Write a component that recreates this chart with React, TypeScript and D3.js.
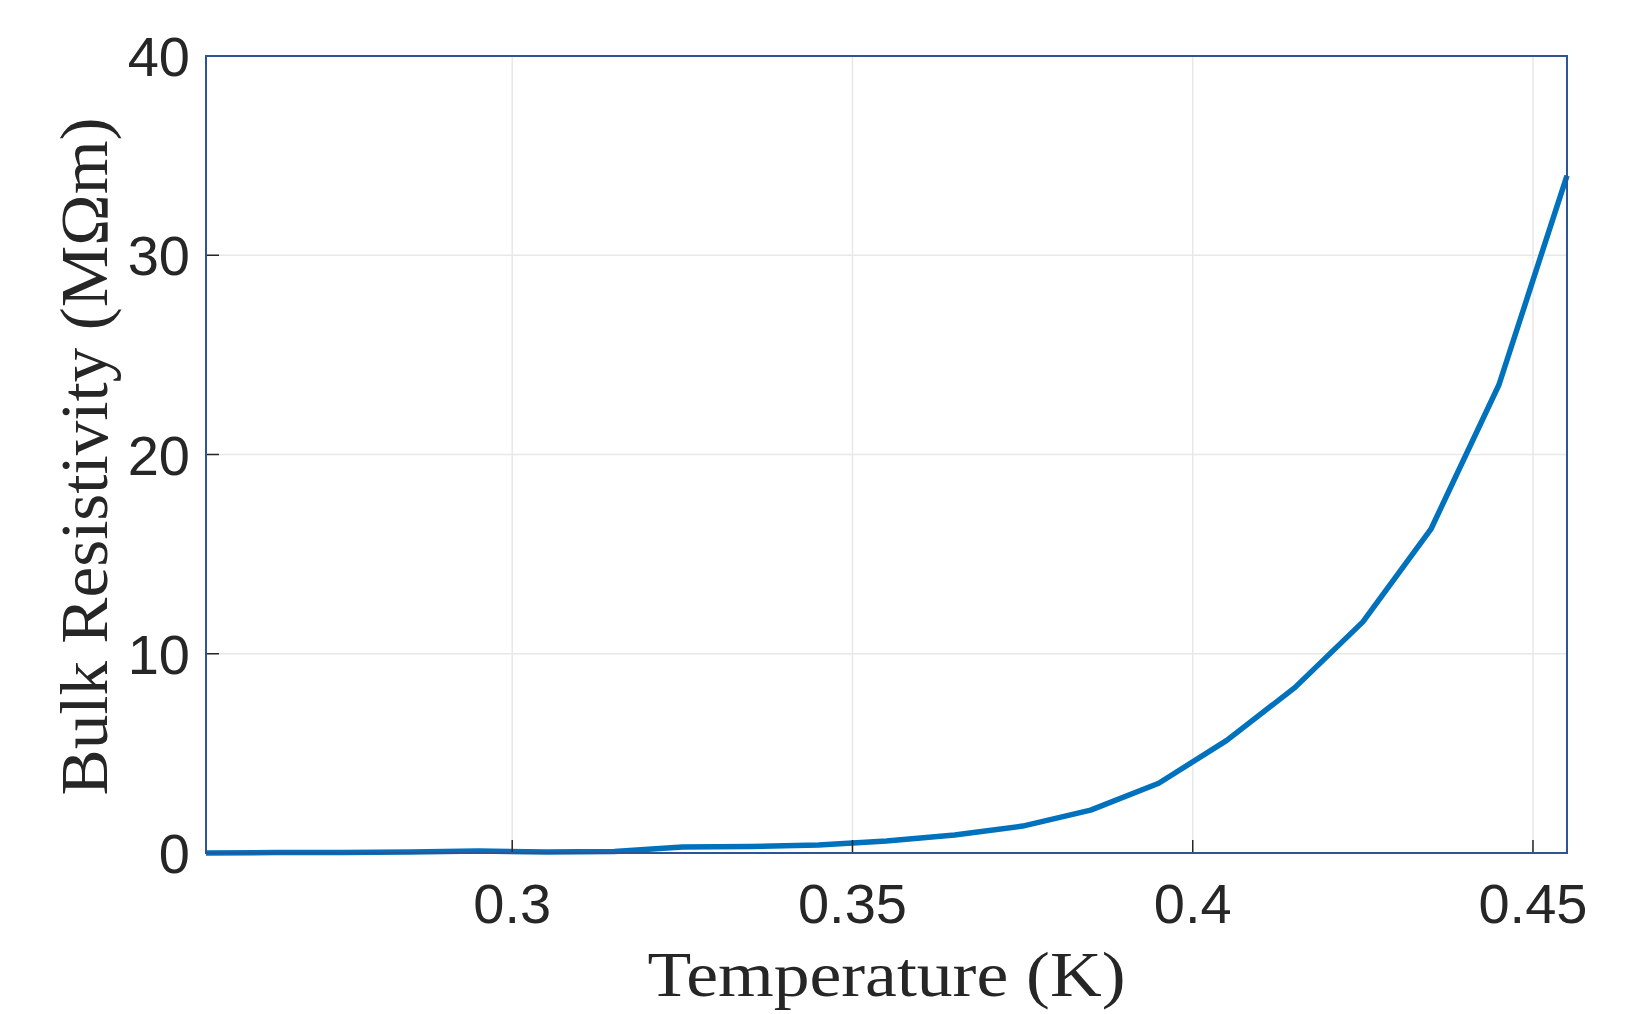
import * as d3 from 'd3'
import { useEffect, useRef } from 'react'

const WIDTH = 1652
const HEIGHT = 1014
const MARGIN = { LEFT: 206, RIGHT: 85, TOP: 56, BOTTOM: 161 }

// temperature (K) and bulk resistivity (MOhm m)
const temperatures = [0.255, 0.265, 0.275, 0.285, 0.295, 0.305, 0.315, 0.325, 0.335, 0.345, 0.355,
  0.365, 0.375, 0.385, 0.395, 0.405, 0.415, 0.425, 0.435, 0.445, 0.455]
const resistivity = [0, 0.02, 0.02, 0.05, 0.1, 0.05, 0.08, 0.3, 0.32, 0.4, 0.6,
  0.9, 1.35, 2.15, 3.5, 5.65, 8.3, 11.6, 16.25, 23.5, 34.0]

const xTicks = [0.3, 0.35, 0.4, 0.45]
const yTicks = [0, 10, 20, 30, 40]
const xDomain = [0.255, 0.455]
const yDomain = [0, 40]

const TICK_FONT = '"Liberation Sans", Arial, Helvetica, sans-serif'
const LABEL_FONT = '"Liberation Serif", "Times New Roman", serif'

export default function App() {
  const ref = useRef<SVGSVGElement>(null)

  useEffect(() => {
    document.body.style.margin = '0'
    const svg = d3.select(ref.current)
    svg.selectAll('*').remove()

    const w = WIDTH - MARGIN.LEFT - MARGIN.RIGHT
    const h = HEIGHT - MARGIN.TOP - MARGIN.BOTTOM

    const x = d3.scaleLinear().domain(xDomain).range([0, w])
    const y = d3.scaleLinear().domain(yDomain).range([h, 0])

    const g = svg.append('g').attr('transform', `translate(${MARGIN.LEFT},${MARGIN.TOP})`)

    g.append('rect').attr('width', w).attr('height', h).attr('fill', '#ffffff')

    // grid
    g.append('g').selectAll('line').data(xTicks).enter().append('line')
      .attr('x1', (d) => x(d)).attr('x2', (d) => x(d))
      .attr('y1', 0).attr('y2', h)
      .attr('stroke', '#e8e8e8').attr('stroke-width', 1.5)
    g.append('g').selectAll('line').data(yTicks.slice(1, -1)).enter().append('line')
      .attr('x1', 0).attr('x2', w)
      .attr('y1', (d) => y(d)).attr('y2', (d) => y(d))
      .attr('stroke', '#e8e8e8').attr('stroke-width', 1.5)

    // data line
    const line = d3.line<number>()
      .x((d, i) => x(temperatures[i]))
      .y((d) => y(d))
    g.append('path')
      .datum(resistivity)
      .attr('d', line)
      .attr('fill', 'none')
      .attr('stroke', '#0072BD')
      .attr('stroke-width', 5.5)
      .attr('stroke-linejoin', 'round')

    // inward ticks
    const TICK = 13
    g.append('g').selectAll('line').data(xTicks).enter().append('line')
      .attr('x1', (d) => x(d)).attr('x2', (d) => x(d))
      .attr('y1', h).attr('y2', h - TICK)
      .attr('stroke', '#262626').attr('stroke-width', 1.5)
    g.append('g').selectAll('line').data(yTicks).enter().append('line')
      .attr('x1', 0).attr('x2', TICK)
      .attr('y1', (d) => y(d)).attr('y2', (d) => y(d))
      .attr('stroke', '#262626').attr('stroke-width', 1.5)

    // box
    g.append('rect').attr('width', w).attr('height', h)
      .attr('fill', 'none').attr('stroke', '#2c5496').attr('stroke-width', 2)

    // tick labels
    g.append('g').selectAll('text').data(xTicks).enter().append('text')
      .attr('x', (d) => x(d)).attr('y', h + 70)
      .attr('text-anchor', 'middle')
      .style('font-family', TICK_FONT).style('font-size', '56px')
      .attr('fill', '#262626')
      .text((d) => String(d))
    g.append('g').selectAll('text').data(yTicks).enter().append('text')
      .attr('x', -16).attr('y', (d) => y(d))
      .attr('dy', '0.36em')
      .attr('text-anchor', 'end')
      .style('font-family', TICK_FONT).style('font-size', '56px')
      .attr('fill', '#262626')
      .text((d) => String(d))

    // axis titles
    svg.append('text')
      .attr('x', MARGIN.LEFT + w / 2).attr('y', 996)
      .attr('text-anchor', 'middle')
      .attr('textLength', 478).attr('lengthAdjust', 'spacingAndGlyphs')
      .style('font-family', LABEL_FONT).style('font-size', '63px')
      .attr('fill', '#262626')
      .text('Temperature (K)')

    svg.append('text')
      .attr('transform', `translate(107,${MARGIN.TOP + h / 2 + 2}) rotate(-90)`)
      .attr('text-anchor', 'middle')
      .attr('textLength', 678).attr('lengthAdjust', 'spacingAndGlyphs')
      .style('font-family', LABEL_FONT).style('font-size', '68px')
      .attr('fill', '#262626')
      .text('Bulk Resistivity (MΩm)')
  }, [])

  return <svg ref={ref} width={WIDTH} height={HEIGHT} style={{ display: 'block', background: '#ffffff' }} />
}
